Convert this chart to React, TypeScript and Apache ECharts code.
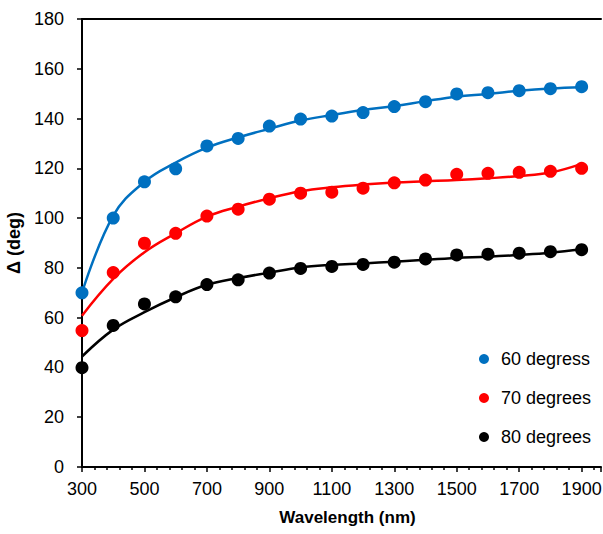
import React, { useEffect, useRef } from "react";
import * as echarts from "echarts";

const wavelengths = [300, 400, 500, 600, 700, 800, 900, 1000, 1100, 1200, 1300, 1400, 1500, 1600, 1700, 1800, 1900];

const deg60 = [70, 100, 114.6, 119.8, 129, 132, 137, 139.8, 141, 142.4, 144.8, 146.8, 149.9, 150.4, 151.2, 152, 152.8];
const deg70 = [54.8, 78.1, 89.9, 93.9, 100.8, 103.6, 107.6, 110, 110.4, 112, 114.2, 115.3, 117.6, 118, 118.4, 118.8, 120];
const deg80 = [39.9, 56.9, 65.5, 68.4, 73.3, 75.2, 77.9, 79.8, 80.6, 81.4, 82.3, 83.6, 85.2, 85.5, 85.9, 86.5, 87.3];

const fit60 = [70, 101, 114.6, 122.3, 128.3, 132.4, 135.9, 139.2, 141.4, 143.4, 145, 147, 148.8, 149.9, 151.2, 152.1, 152.6];
const fit70 = [60.8, 75.6, 86.3, 93.9, 100.6, 104.6, 108, 110.8, 112.4, 113.5, 114.3, 114.8, 115.3, 116, 116.9, 118.3, 121.8];
const fit80 = [44.4, 55.2, 62.2, 68.2, 73.2, 75.9, 78.1, 80.2, 81.2, 81.8, 82.5, 83.3, 84.0, 84.5, 85.2, 86.1, 87.5];

const seriesNames = ["60 degress", "70 degrees", "80 degrees"];
const colors = ["#0070C0", "#FF0000", "#000000"];

const FONT = "'Liberation Sans', Arial, sans-serif";

export default function App() {
  const ref = useRef<HTMLDivElement>(null);
  useEffect(() => {
    if (!ref.current) return;
    const chart = echarts.init(ref.current, undefined, { renderer: "svg" });
    const pts = (vals: number[]) => wavelengths.map((w, i) => [w, vals[i]]);
    const scatter = [deg60, deg70, deg80].map((d, i) => ({
      name: seriesNames[i],
      type: "scatter",
      data: pts(d),
      symbol: "circle",
      symbolSize: 13,
      itemStyle: { color: colors[i], opacity: 1 },
      z: 3,
    }));
    const lines = [fit60, fit70, fit80].map((d, i) => ({
      name: "fit" + i,
      type: "line",
      data: pts(d),
      smooth: 0.4,
      showSymbol: false,
      symbol: "none",
      lineStyle: { color: colors[i], width: 2.5 },
      z: 2,
    }));
    chart.setOption({
      animation: false,
      textStyle: { fontFamily: FONT },
      grid: { left: 82, right: 2, top: 19, bottom: 67, containLabel: false, outerBoundsMode: "none" },
      legend: {
        data: seriesNames.map((n) => ({ name: n, icon: "circle" })),
        orient: "vertical",
        left: 474,
        top: 345,
        itemWidth: 10,
        itemHeight: 10,
        itemGap: 21,
        textStyle: { fontFamily: FONT, fontSize: 18, color: "#000", padding: [0, 0, 0, 7] },
        selectedMode: false,
      },
      xAxis: [
        {
          type: "value",
          min: 300,
          max: 1962,
          interval: 200,
          name: "Wavelength (nm)",
          nameLocation: "middle",
          nameGap: 42,
          nameTextStyle: { fontFamily: FONT, fontSize: 17, fontWeight: "bold", color: "#000", padding: [0, 0, 0, 12] },
          splitLine: { show: false },
          axisLine: { show: true, onZero: false, lineStyle: { color: "#000", width: 2 } },
          axisTick: { show: true, inside: false, length: 5, lineStyle: { color: "#000", width: 1.5 } },
          minorTick: { show: true, splitNumber: 5, length: 3, lineStyle: { color: "#000", width: 1.5 } },
          axisLabel: {
            fontFamily: FONT,
            fontSize: 18,
            color: "#000",
            margin: 13,
            showMaxLabel: false,
            formatter: (v: number) => String(v),
          },
        },
        {
          type: "value",
          position: "top",
          min: 300,
          max: 1962,
          interval: 200,
          splitLine: { show: false },
          axisLine: { show: true, onZero: false, lineStyle: { color: "#000", width: 2 } },
          axisTick: { show: false },
          axisLabel: { show: false },
        },
      ],
      yAxis: {
        type: "value",
        min: 0,
        max: 180,
        interval: 20,
        name: "Δ (deg)",
        nameLocation: "middle",
        nameGap: 48,
        nameTextStyle: { fontFamily: FONT, fontSize: 18, fontWeight: "bold", color: "#000" },
        splitLine: { show: false },
        axisLine: { show: true, onZero: false, lineStyle: { color: "#000", width: 2 } },
        axisTick: { show: true, inside: false, length: 5, lineStyle: { color: "#000", width: 1.5 } },
        axisLabel: { fontFamily: FONT, fontSize: 18, color: "#000", margin: 18 },
      },
      series: [...lines, ...scatter],
    });
    return () => chart.dispose();
  }, []);
  return (
    <div
      ref={ref}
      style={{ position: "fixed", left: 0, top: 0, width: 603, height: 534, background: "#fff" }}
    />
  );
}
